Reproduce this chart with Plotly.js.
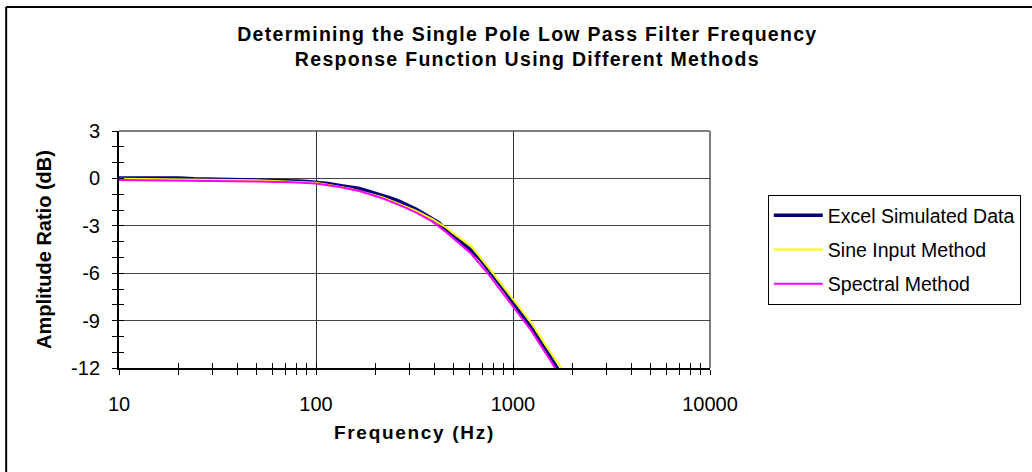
<!DOCTYPE html>
<html>
<head>
<meta charset="utf-8">
<script src="https://cdn.plot.ly/plotly-3.0.1.min.js"></script>
<style>
  html, body { margin: 0; padding: 0; background: #fff; }
  #chart { width: 1032px; height: 472px; }
  .gtitle { letter-spacing: 1.3px; }
  .xtitle { letter-spacing: 1.7px; }
</style>
</head>
<body>
<div id="chart"></div>
<script>
// ---- Data ----
const seriesNames = ["Excel Simulated Data", "Sine Input Method", "Spectral Method"];

const excelFreq = [10, 15, 20, 24, 30, 40, 50, 60, 70, 80, 90, 100, 115, 132, 150, 166, 190, 219, 240, 266, 295, 323, 360, 392, 420, 458, 500, 550, 614, 680, 759, 850, 920, 1000, 1110, 1236, 1350, 1472, 1580, 1690, 1800];
const excelDb   = [0.03, 0.03, 0.02, -0.03, -0.05, -0.07, -0.09, -0.11, -0.13, -0.16, -0.2, -0.24, -0.33, -0.45, -0.54, -0.64, -0.85, -1.07, -1.25, -1.46, -1.72, -1.96, -2.3, -2.55, -2.8, -3.25, -3.65, -4.05, -4.55, -5.1, -5.85, -6.65, -7.2, -7.85, -8.6, -9.4, -10.15, -10.9, -11.45, -12.0, -12.6];

const sineFreq = [10, 20, 50, 100, 150, 219, 266, 323, 392, 458, 500, 614, 759, 1000, 1236, 1472, 1774, 2000];
const sineDb   = [-0.03, -0.05, -0.12, -0.28, -0.65, -1.2, -1.6, -2.05, -2.6, -3.12, -3.5, -4.3, -5.72, -7.62, -9.14, -10.6, -12.0, -13.0];

const specFreq = [10, 20, 30, 50, 75, 100, 132, 166, 219, 266, 323, 392, 458, 500, 614, 759, 1000, 1236, 1472, 1650, 1800];
const specDb   = [-0.1, -0.13, -0.15, -0.2, -0.25, -0.33, -0.55, -0.8, -1.27, -1.69, -2.17, -2.75, -3.4, -3.8, -4.77, -6.14, -8.15, -9.62, -11.1, -12.0, -12.8];

const yTickVals = [3, 0, -3, -6, -9, -12];
const yTickText = ["3", "0", "-3", "-6", "-9", "-12"];
const xTickVals = [10, 100, 1000, 10000];
const xTickText = ["10", "100", "1000", "10000"];

// ---- Style ----
const FONT = "'Liberation Sans', Arial, sans-serif";
const minorX = [];
[10, 100, 1000].forEach(d => { for (let k = 2; k <= 9; k++) minorX.push(d * k); });

const traces = [
  { x: excelFreq, y: excelDb, name: seriesNames[0], type: "scatter", mode: "lines",
    line: { color: "#000080", width: 3.5 }, legendgroup: "a" },
  { x: sineFreq, y: sineDb, name: seriesNames[1], type: "scatter", mode: "lines",
    line: { color: "#FFFF00", width: 2 }, legendgroup: "b" },
  { x: specFreq, y: specDb, name: seriesNames[2], type: "scatter", mode: "lines",
    line: { color: "#FF00FF", width: 2 }, legendgroup: "c" },
  { x: [], y: [], xaxis: "x2", yaxis: "y2", showlegend: false, hoverinfo: "skip", type: "scatter" }
];

const xRange = [1, 4];
const yRange = [-12, 3];

const layout = {
  width: 1032, height: 472,
  margin: { l: 119, r: 321, t: 131, b: 104 },
  paper_bgcolor: "#fff", plot_bgcolor: "#fff",
  font: { family: FONT, size: 20, color: "#000" },
  showlegend: true,
  title: {
    text: "<b>Determining the Single Pole Low Pass Filter Frequency<br>Response Function Using Different Methods</b>",
    font: { family: FONT, size: 19.5, color: "#000" },
    x: 0.511, xref: "container", xanchor: "center",
    y: 0.913, yref: "container", yanchor: "top"
  },
  xaxis: {
    type: "log", range: xRange,
    tickvals: xTickVals, ticktext: xTickText,
    ticks: "outside", ticklen: 5, tickwidth: 1, tickcolor: "#000",
    minor: { tickvals: minorX, ticks: "outside", ticklen: 5, tickwidth: 1, tickcolor: "#000", showgrid: false },
    showline: true, linecolor: "#000", linewidth: 2,
    showgrid: true, gridcolor: "#333", gridwidth: 1,
    zeroline: false,
    tickfont: { family: FONT, size: 20, color: "#000" },
    ticklabelstandoff: 12,
    title: { text: "<b>Frequency (Hz)</b>", font: { family: FONT, size: 19, color: "#000" }, standoff: 12 }
  },
  yaxis: {
    range: yRange,
    tickvals: yTickVals, ticktext: yTickText,
    ticks: "outside", ticklen: 5, tickwidth: 1, tickcolor: "#000",
    minor: { dtick: 1, ticks: "outside", ticklen: 5, tickwidth: 1, tickcolor: "#000", showgrid: false },
    showline: true, linecolor: "#000", linewidth: 2,
    showgrid: true, gridcolor: "#444", gridwidth: 1,
    zeroline: false,
    tickfont: { family: FONT, size: 20, color: "#000" },
    ticklabelstandoff: 8,
    title: { text: "<b>Amplitude Ratio (dB)</b>", font: { family: FONT, size: 20, color: "#000" }, standoff: 14 }
  },
  xaxis2: {
    type: "log", range: xRange, overlaying: "x",
    tickvals: xTickVals, ticks: "inside", ticklen: 5, tickwidth: 1, tickcolor: "#000",
    minor: { tickvals: minorX, ticks: "inside", ticklen: 5, tickwidth: 1, tickcolor: "#000", showgrid: false },
    showticklabels: false, showgrid: false, showline: false, zeroline: false
  },
  yaxis2: {
    range: yRange, overlaying: "y",
    tickvals: yTickVals, ticks: "inside", ticklen: 5, tickwidth: 1, tickcolor: "#000",
    minor: { dtick: 1, ticks: "inside", ticklen: 5, tickwidth: 1, tickcolor: "#000", showgrid: false },
    showticklabels: false, showgrid: false, showline: false, zeroline: false
  },
  legend: {
    x: 1.096, xanchor: "left", y: 0.73, yanchor: "top",
    bgcolor: "#fff", bordercolor: "#000", borderwidth: 1,
    font: { family: FONT, size: 19.5, color: "#000" },
    tracegroupgap: 6, itemwidth: 49
  },
  shapes: [
    // plot-area border (top/right, grey)
    { type: "line", xref: "paper", yref: "paper", x0: 0, x1: 1, y0: 1, y1: 1,
      line: { color: "#808080", width: 2 }, layer: "below" },
    { type: "line", xref: "paper", yref: "paper", x0: 1, x1: 1, y0: 0, y1: 1,
      line: { color: "#808080", width: 2 }, layer: "below" },
    // outer chart frame (left and top visible)
    { type: "line", xref: "paper", yref: "paper", x0: -0.1909, x1: 1.55, y0: 1.523, y1: 1.523,
      line: { color: "#000", width: 2 } },
    { type: "line", xref: "paper", yref: "paper", x0: -0.1909, x1: -0.1909, y0: -0.45, y1: 1.523,
      line: { color: "#000", width: 2 } }
  ]
};

Plotly.newPlot("chart", traces, layout, { displayModeBar: false, staticPlot: true });
</script>
</body>
</html>
